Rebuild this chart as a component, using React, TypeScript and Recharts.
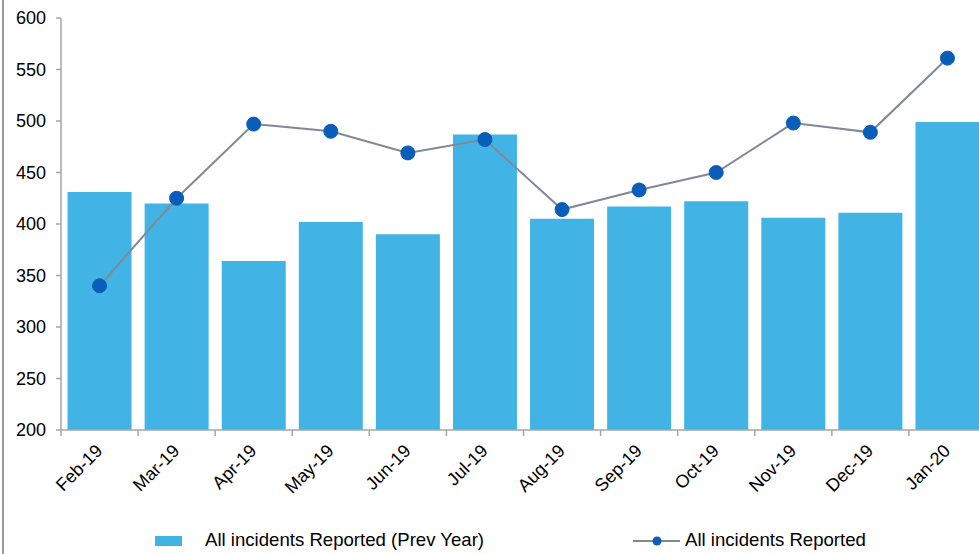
import React from 'react';
import { ComposedChart, Bar, Line, XAxis, YAxis, Legend } from 'recharts';

const months = ['Feb-19', 'Mar-19', 'Apr-19', 'May-19', 'Jun-19', 'Jul-19', 'Aug-19', 'Sep-19', 'Oct-19', 'Nov-19', 'Dec-19', 'Jan-20'];
const prevYear = [431, 420, 364, 402, 390, 487, 405, 417, 422, 406, 411, 499];
const current = [340, 425, 497, 490, 469, 482, 414, 433, 450, 498, 489, 561];
const yTicks = [200, 250, 300, 350, 400, 450, 500, 550, 600];

const data = months.map((m, i) => ({ month: m, prev: prevYear[i], cur: current[i] }));

const FONT = '"Liberation Sans", Arial, sans-serif';
const FS = 18;
const BAR_COLOR = '#41B4E5';
const LINE_COLOR = '#7F8A96';
const DOT_COLOR = '#0A5EBA';
const AXIS_COLOR = '#A6A6A6';

const CHART_W = 990;
const Y_W = 61;
const M_RIGHT = 4;
const BAND = (CHART_W - Y_W - M_RIGHT) / months.length;

const XTick = (props: any) => {
  const { x, y, payload, index } = props;
  const half = BAND / 2;
  return (
    <g>
      <line x1={x - half} y1={y} x2={x - half} y2={y + 6} stroke={AXIS_COLOR} strokeWidth={1.5} />
      {index === months.length - 1 && (
        <line x1={x + half} y1={y} x2={x + half} y2={y + 6} stroke={AXIS_COLOR} strokeWidth={1.5} />
      )}
      <text
        x={x + 4}
        y={y + 22}
        textAnchor="end"
        transform={`rotate(-45, ${x + 4}, ${y + 22})`}
        fontFamily={FONT}
        fontSize={FS}
        fill="#000"
      >
        {payload.value}
      </text>
    </g>
  );
};

const LegendContent = () => (
  <div style={{ position: 'relative', width: 979, height: 30, fontFamily: FONT, fontSize: 18.6, color: '#000' }}>
    <div style={{ position: 'absolute', left: 155, top: 12, width: 27, height: 10, background: BAR_COLOR }} />
    <div style={{ position: 'absolute', left: 205, top: 5, whiteSpace: 'nowrap' }}>All incidents Reported (Prev Year)</div>
    <svg style={{ position: 'absolute', left: 630, top: 7 }} width={54} height={20}>
      <line x1={3} y1={10} x2={50} y2={10} stroke={LINE_COLOR} strokeWidth={2} />
      <circle cx={27} cy={10} r={4.5} fill={DOT_COLOR} />
    </svg>
    <div style={{ position: 'absolute', left: 685, top: 5, whiteSpace: 'nowrap' }}>All incidents Reported</div>
  </div>
);

export default function App() {
  return (
    <div style={{ position: 'absolute', left: 0, top: 0, width: 979, height: 554, overflow: 'hidden', background: '#fff' }}>
      <div style={{ position: 'absolute', left: 2, top: 0, width: 1.5, height: 554, background: '#9A9A9A' }} />
      <ComposedChart
        width={CHART_W}
        height={554}
        data={data}
        margin={{ top: 18, right: M_RIGHT, left: 0, bottom: 0 }}
        barCategoryGap="8.5%"
      >
        <XAxis
          dataKey="month"
          height={94}
          tickLine={false}
          tickSize={0}
          tickMargin={0}
          axisLine={{ stroke: AXIS_COLOR, strokeWidth: 1.5 }}
          tick={<XTick />}
          interval={0}
        />
        <YAxis
          width={Y_W}
          domain={[200, 600]}
          ticks={yTicks}
          allowDataOverflow
          axisLine={{ stroke: AXIS_COLOR, strokeWidth: 1.5 }}
          tickLine={{ stroke: AXIS_COLOR, strokeWidth: 1.5 }}
          tickSize={5}
          tickMargin={10}
          tick={{ fontFamily: FONT, fontSize: FS, fill: '#000' }}
        />
        <Legend verticalAlign="bottom" height={30} content={<LegendContent />} wrapperStyle={{ left: 0, width: 979 }} />
        <Bar dataKey="prev" name="All incidents Reported (Prev Year)" fill={BAR_COLOR} isAnimationActive={false} />
        <Line
          dataKey="cur"
          name="All incidents Reported"
          stroke={LINE_COLOR}
          strokeWidth={2}
          dot={{ r: 7, fill: DOT_COLOR, stroke: DOT_COLOR, strokeWidth: 1 }}
          activeDot={false}
          isAnimationActive={false}
        />
      </ComposedChart>
    </div>
  );
}
